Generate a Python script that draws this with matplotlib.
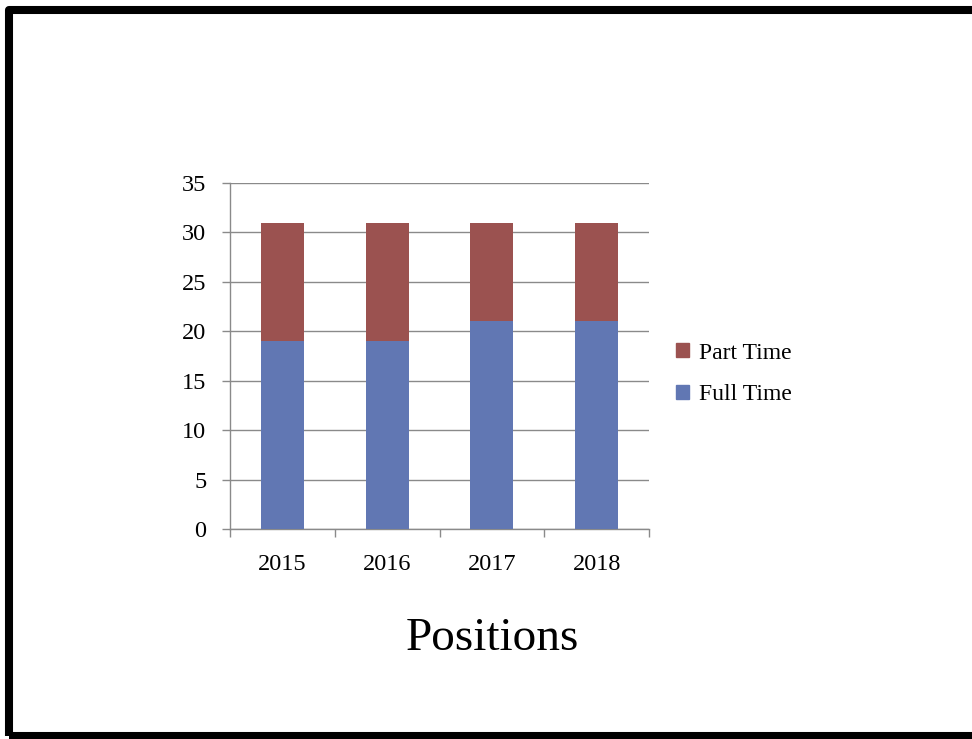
import matplotlib
matplotlib.use("Agg")
from matplotlib import pyplot as plt
from matplotlib.patches import Rectangle, Patch
import numpy as np

# Positions by year
years = ['2015', '2016', '2017', '2018']
full_time = [19, 19, 21, 21]
part_time = [12, 12, 10, 10]

blue = '#6177B3'
red = '#9B5250'
grey = '#8A8A8A'
W, H = 972, 739

plt.rcParams['font.family'] = ['Liberation Serif', 'DejaVu Serif']

fig = plt.figure(figsize=(W / 100, H / 100), dpi=100)
fig.patch.set_facecolor('white')

# black frame round the slide (right edge runs off the picture)
frame = Rectangle((9 / W, 3 / H), (990 - 9) / W, (729 - 3) / H, transform=fig.transFigure,
                  fill=False, edgecolor='black', linewidth=5.8, joinstyle='round')
fig.patches.append(frame)

ax = fig.add_axes([230 / W, (H - 529) / H, 419 / W, 346 / H])
x = np.arange(len(years))
ax.bar(x, full_time, width=0.41, color=blue, label='Full Time', zorder=3)
ax.bar(x, part_time, width=0.41, bottom=full_time, color=red, label='Part Time', zorder=3)

ax.set_xlim(-0.5, len(years) - 0.5)
ax.set_ylim(0, 35)
ax.set_yticks(range(0, 36, 5))
ax.yaxis.grid(True, color=grey, linewidth=1.0, zorder=0)
ax.set_xticks(x)
ax.set_xticklabels(years)
ax.set_xticks(np.arange(-0.5, len(years)), minor=True)
ax.tick_params(axis='x', which='major', length=0, pad=18, labelsize=17.5)
ax.tick_params(axis='x', which='minor', length=6, color=grey, width=1.0, direction='out')
ax.tick_params(axis='y', length=6, color=grey, width=1.0, pad=11, labelsize=17.5)

for s in ['top', 'right']:
    ax.spines[s].set_visible(False)
for s in ['left', 'bottom']:
    ax.spines[s].set_color(grey)
    ax.spines[s].set_linewidth(1.0)

handles = [Patch(color=red, label='Part Time'), Patch(color=blue, label='Full Time')]
fig.legend(handles=handles, loc='center left', bbox_to_anchor=(655 / W, (H - 374) / H),
           frameon=False, fontsize=17, handlelength=0.55, handleheight=0.55,
           handletextpad=0.4, labelspacing=0.88)

fig.text(492 / W, (H - 639) / H, 'Positions', ha='center', va='center', fontsize=34)

fig.savefig('out.png', dpi=100)
